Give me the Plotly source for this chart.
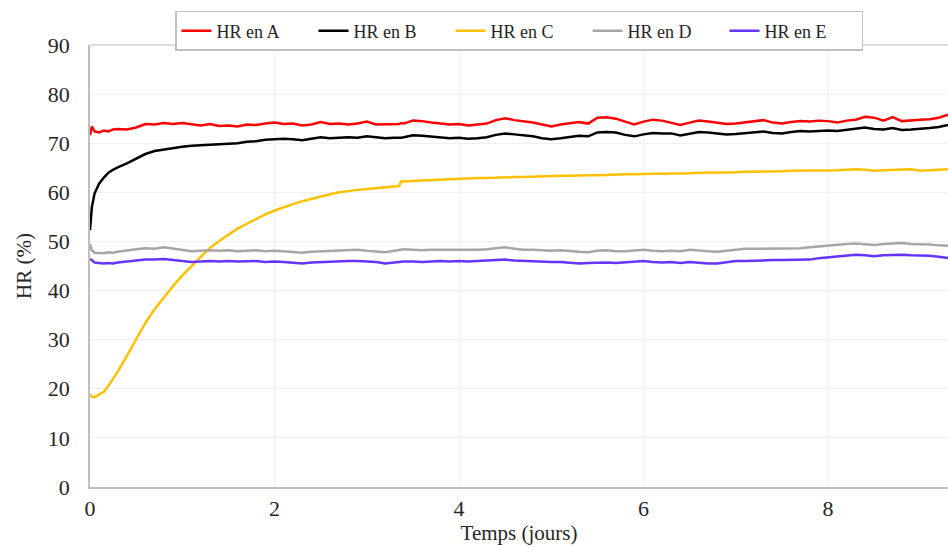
import plotly.graph_objects as go

days = [0, 0.02, 0.05, 0.1, 0.15, 0.2, 0.25, 0.3, 0.4, 0.5, 0.6, 0.7, 0.8, 0.9,
        1.0, 1.1, 1.2, 1.3, 1.4, 1.5, 1.6, 1.7, 1.8, 1.9, 2.0, 2.1, 2.2, 2.3, 2.4,
        2.5, 2.6, 2.7, 2.8, 2.9, 3.0, 3.1, 3.2, 3.3, 3.35, 3.37, 3.4, 3.5, 3.6,
        3.7, 3.8, 3.9, 4.0, 4.1, 4.2, 4.3, 4.4, 4.5, 4.6, 4.7, 4.8, 4.9, 5.0,
        5.1, 5.2, 5.3, 5.4, 5.5, 5.6, 5.7, 5.8, 5.9, 6.0, 6.1, 6.2, 6.3, 6.4,
        6.5, 6.6, 6.7, 6.8, 6.9, 7.0, 7.1, 7.2, 7.3, 7.4, 7.5, 7.6, 7.7, 7.8,
        7.9, 8.0, 8.1, 8.2, 8.3, 8.4, 8.5, 8.6, 8.7, 8.8, 8.9, 9.0, 9.1, 9.2, 9.3]

hr_a = [71.6, 73.4, 72.4, 72.2, 72.6, 72.4, 72.8, 72.9, 72.8, 73.2, 73.9, 73.8, 74.1, 73.9,
        74.1, 73.9, 73.6, 73.9, 73.5, 73.6, 73.4, 73.8, 73.7, 74.0, 74.2, 73.9, 74.0, 73.6, 73.8,
        74.3, 73.9, 74.0, 73.8, 74.0, 74.4, 73.8, 73.9, 74.0, 73.9, 74.1, 74.0, 74.6, 74.5,
        74.2, 74.0, 73.8, 73.9, 73.6, 73.8, 74.0, 74.7, 75.1, 74.7, 74.5, 74.2, 73.8, 73.4,
        73.8, 74.0, 74.3, 74.0, 75.2, 75.3, 75.0, 74.4, 73.8, 74.4, 74.8, 74.6, 74.1, 73.7,
        74.2, 74.6, 74.4, 74.2, 73.9, 74.0, 74.2, 74.4, 74.7, 74.2, 74.0, 74.3, 74.5, 74.4,
        74.6, 74.5, 74.2, 74.6, 74.8, 75.4, 75.2, 74.6, 75.3, 74.5, 74.7, 74.8, 74.9, 75.2, 75.8]

hr_b = [52.3, 57.0, 59.8, 61.8, 63.0, 64.0, 64.6, 65.1, 65.9, 66.8, 67.8, 68.4, 68.7, 69.1,
        69.3, 69.5, 69.6, 69.7, 69.9, 70.0, 70.0, 70.3, 70.4, 70.7, 70.8, 70.9, 70.8, 70.6, 70.9,
        71.2, 71.0, 71.1, 71.2, 71.1, 71.4, 71.2, 71.0, 71.1, 71.0, 71.1, 71.2, 71.6, 71.5,
        71.3, 71.2, 71.0, 71.1, 70.9, 71.0, 71.2, 71.7, 72.0, 71.8, 71.6, 71.4, 71.0, 70.8,
        71.0, 71.3, 71.5, 71.4, 72.2, 72.3, 72.2, 71.7, 71.4, 71.8, 72.1, 72.0, 72.0, 71.6,
        71.9, 72.3, 72.2, 72.0, 71.8, 71.9, 72.1, 72.2, 72.4, 72.1, 72.0, 72.3, 72.5, 72.4,
        72.5, 72.6, 72.5, 72.7, 72.9, 73.2, 72.9, 72.8, 73.1, 72.7, 72.8, 72.9, 73.1, 73.3, 73.7]

hr_c = [18.9, 18.4, 18.3, 18.8, 19.4, 20.6, 22.0, 23.5, 26.7, 30.2, 33.4, 36.2, 38.6, 40.9,
        43.1, 45.0, 46.9, 48.7, 50.1, 51.4, 52.6, 53.6, 54.6, 55.5, 56.3, 57.0, 57.6, 58.2, 58.7,
        59.2, 59.6, 60.0, 60.3, 60.5, 60.7, 60.9, 61.1, 61.2, 61.3, 62.2, 62.2, 62.3, 62.4,
        62.5, 62.6, 62.7, 62.7, 62.8, 62.9, 62.9, 63.0, 63.0, 63.1, 63.1, 63.2, 63.3, 63.3,
        63.4, 63.4, 63.5, 63.5, 63.5, 63.6, 63.6, 63.7, 63.7, 63.8, 63.8, 63.8, 63.8, 63.9,
        63.9, 64.0, 64.0, 64.0, 64.1, 64.1, 64.2, 64.2, 64.2, 64.3, 64.3, 64.4, 64.4, 64.4,
        64.5, 64.5, 64.5, 64.6, 64.7, 64.6, 64.4, 64.5, 64.6, 64.6, 64.7, 64.4, 64.5, 64.6, 64.7]

hr_d = [49.5, 48.2, 47.7, 47.6, 47.6, 47.8, 47.7, 47.9, 48.2, 48.4, 48.6, 48.5, 48.8, 48.5,
        48.3, 48.0, 48.1, 48.2, 48.1, 48.2, 48.0, 48.1, 48.2, 48.0, 48.1, 48.0, 47.9, 47.7, 47.9,
        48.0, 48.0, 48.1, 48.2, 48.3, 48.1, 48.0, 47.8, 48.1, 48.3, 48.3, 48.4, 48.3, 48.2,
        48.3, 48.3, 48.2, 48.3, 48.2, 48.3, 48.4, 48.6, 48.8, 48.5, 48.3, 48.3, 48.2, 48.1,
        48.2, 48.0, 47.9, 47.8, 48.1, 48.2, 48.0, 48.0, 48.1, 48.3, 48.1, 48.0, 48.1, 48.0,
        48.3, 48.1, 48.0, 47.9, 48.1, 48.4, 48.5, 48.5, 48.5, 48.6, 48.6, 48.5, 48.6, 48.8,
        49.0, 49.2, 49.3, 49.5, 49.6, 49.5, 49.3, 49.5, 49.6, 49.7, 49.5, 49.5, 49.4, 49.2, 49.1]

hr_e = [46.4, 46.2, 45.7, 45.6, 45.5, 45.6, 45.5, 45.7, 45.9, 46.1, 46.3, 46.3, 46.4, 46.2,
        46.0, 45.8, 45.9, 46.0, 45.9, 46.0, 45.9, 46.0, 46.0, 45.8, 45.9, 45.8, 45.7, 45.5, 45.7,
        45.8, 45.9, 45.9, 46.0, 46.0, 45.9, 45.8, 45.5, 45.7, 45.8, 45.8, 45.9, 45.9, 45.8,
        45.9, 46.0, 45.9, 46.0, 45.9, 46.0, 46.1, 46.2, 46.3, 46.1, 46.0, 45.9, 45.9, 45.8,
        45.8, 45.7, 45.5, 45.6, 45.7, 45.7, 45.6, 45.7, 45.8, 46.0, 45.8, 45.7, 45.8, 45.6,
        45.8, 45.6, 45.5, 45.5, 45.7, 46.0, 46.0, 46.1, 46.1, 46.2, 46.2, 46.2, 46.2, 46.3,
        46.6, 46.8, 47.0, 47.1, 47.3, 47.2, 47.0, 47.2, 47.3, 47.3, 47.2, 47.2, 47.1, 46.9, 46.6]

series_names = ["HR en A", "HR en B", "HR en C", "HR en D", "HR en E"]
series_values = [hr_a, hr_b, hr_c, hr_d, hr_e]
series_colors = ["#ff0000", "#000000", "#ffc000", "#a6a6a6", "#6633ff"]

FONT = "Liberation Serif, Times New Roman, serif"

fig = go.Figure()
for name, vals, col in zip(series_names, series_values, series_colors):
    fig.add_trace(go.Scatter(x=days, y=vals, mode="lines", name=name,
                             line=dict(color=col, width=2.5)))

fig.update_layout(
    width=948, height=548,
    margin=dict(l=90, r=0, t=45, b=61, autoexpand=False),
    paper_bgcolor="white", plot_bgcolor="white",
    font=dict(family=FONT, size=22, color="#262626"),
    showlegend=True,
    legend=dict(orientation="h", x=0.5, xanchor="center", y=1.077, yanchor="top",
                font=dict(family=FONT, size=18, color="#262626"),
                bordercolor="#bfbfbf", borderwidth=1.5, bgcolor="white",
                entrywidth=92, entrywidthmode="pixels", itemwidth=30,
                tracegroupgap=0),
    xaxis=dict(range=[0, 9.3], tickvals=[0, 2, 4, 6, 8], showgrid=True,
               gridcolor="#f0f0f0", gridwidth=1, zeroline=False,
               showline=True, linecolor="#bfbfbf", linewidth=1.5,
               ticks="", ticklabelstandoff=1,
               title=dict(text="Temps (jours)", font=dict(size=21), standoff=4)),
    yaxis=dict(range=[0, 90], dtick=10, showgrid=True,
               gridcolor="#f0f0f0", gridwidth=1, zeroline=False,
               showline=True, linecolor="#bfbfbf", linewidth=1.5,
               ticks="", ticklabelstandoff=14,
               title=dict(text="HR (%)", font=dict(size=21), standoff=10)),
)
fig.add_shape(type="line", xref="paper", yref="paper", x0=0, x1=1, y0=1, y1=1,
              line=dict(color="#d0d0d0", width=1.5))

fig.write_html("out.html", config={"displayModeBar": False},
               post_script="document.body.style.margin='0';document.body.style.overflow='hidden';")
